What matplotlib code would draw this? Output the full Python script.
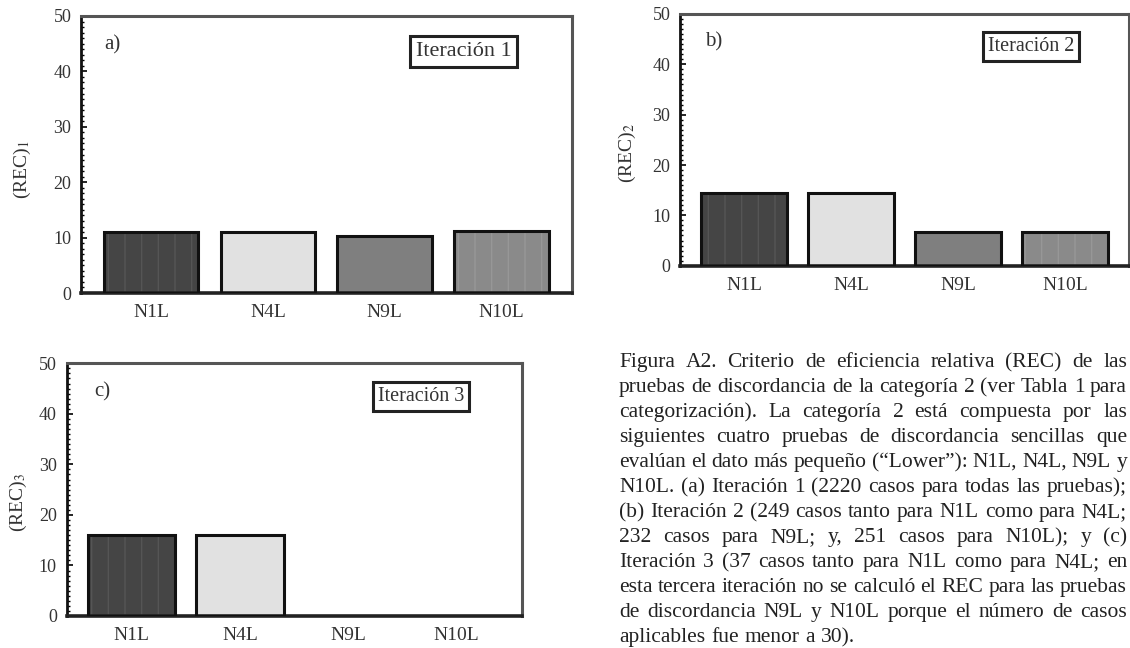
import numpy as np
import matplotlib
matplotlib.use("Agg")
import matplotlib.pyplot as plt
from matplotlib.ticker import MultipleLocator

plt.rcParams['font.family'] = ['Liberation Serif', 'DejaVu Serif']
plt.rcParams['mathtext.fontset'] = 'stix'

categories = ["N1L", "N4L", "N9L", "N10L"]
rec_iter1 = [11.1, 11.0, 10.2, 11.2]
rec_iter2 = [14.5, 14.5, 6.7, 6.7]
rec_iter3 = [16.1, 16.1, np.nan, np.nan]
panel_tags = ["a)", "b)", "c)"]
iter_labels = ["Iteración 1", "Iteración 2", "Iteración 3"]
ylabels = ["(REC)$_1$", "(REC)$_2$", "(REC)$_3$"]

caption_lines = [
    "Figura A2.  Criterio de eficiencia relativa (REC) de las",
    "pruebas de discordancia de la categoría 2 (ver Tabla 1 para",
    "categorización). La categoría 2 está compuesta por las",
    "siguientes cuatro pruebas de discordancia sencillas que",
    "evalúan el dato más pequeño (“Lower”): N1L, N4L, N9L y",
    "N10L. (a) Iteración 1 (2220 casos para todas las pruebas);",
    "(b) Iteración 2 (249 casos tanto para N1L como para N4L;",
    "232 casos para N9L; y, 251 casos para N10L); y (c)",
    "Iteración 3 (37 casos tanto para N1L como para N4L; en",
    "esta tercera iteración no se calculó el REC para las pruebas",
    "de discordancia N9L y N10L porque el número de casos",
    "aplicables fue menor a 30).",
]

face_colors = ['#454545', '#e1e1e1', '#7f7f7f', '#8a8a8a']
stripe_colors = ['#555555', None, None, '#979797']

W, H = 1130, 648
fig = plt.figure(figsize=(W / 100, H / 100), dpi=100)

# axes rectangles in pixel terms: left, right, top, bottom
rects = [(81, 571.6, 16, 293), (680, 1129, 14, 265.7), (66.6, 521.6, 363.3, 616)]
tag_pos = [(0.047, 0.895), (0.055, 0.889), (0.06, 0.886)]
box_pos = [(0.78, 0.872), (0.782, 0.871), (0.779, 0.87)]
box_fs = [16, 14.5, 14.5]
ylab_pos = [(-0.098, 0.444), (-0.094, 0.448), (-0.083, 0.451)]
series = [rec_iter1, rec_iter2, rec_iter3]

for i, (l, r, t, b) in enumerate(rects):
    ax = fig.add_axes([l / W, 1 - b / H, (r - l) / W, (b - t) / H])
    vals = np.array(series[i], dtype=float)
    x = np.arange(len(categories))
    for j in range(len(categories)):
        if np.isnan(vals[j]):
            continue
        if stripe_colors[j] is not None:
            ax.bar(x[j], vals[j], width=0.81, color=face_colors[j],
                   edgecolor=stripe_colors[j], hatch='|', linewidth=0, zorder=2)
        else:
            ax.bar(x[j], vals[j], width=0.81, color=face_colors[j], linewidth=0, zorder=2)
        ax.bar(x[j], vals[j], width=0.81, fill=False, edgecolor='#111111',
               linewidth=2.2, zorder=3)
    ax.set_xlim(-0.6, 3.6)
    ax.set_ylim(0, 50)
    ax.set_xticks(x)
    ax.set_xticklabels(categories, fontsize=14, color='#333333')
    ax.set_yticks([0, 10, 20, 30, 40, 50])
    ax.yaxis.set_minor_locator(MultipleLocator(1))
    ax.tick_params(axis='x', length=0, pad=8)
    ax.tick_params(axis='y', which='major', direction='in', length=4, width=1.2,
                   labelsize=13, labelcolor='#333333', pad=7)
    ax.tick_params(axis='y', which='minor', direction='in', length=2, width=1.0)
    for side in ['top', 'right']:
        ax.spines[side].set_color('#555555')
        ax.spines[side].set_linewidth(2.2)
    ax.spines['left'].set_color('#111111')
    ax.spines['left'].set_linewidth(2.0)
    ax.spines['bottom'].set_color('#222222')
    ax.spines['bottom'].set_linewidth(2.6)
    ax.text(tag_pos[i][0], tag_pos[i][1], panel_tags[i], transform=ax.transAxes,
            fontsize=15, color='#333333', ha='left', va='center')
    ax.text(box_pos[i][0], box_pos[i][1], iter_labels[i], transform=ax.transAxes,
            fontsize=box_fs[i], color='#333333', ha='center', va='center',
            bbox=dict(boxstyle='square,pad=0.25', facecolor='white',
                      edgecolor='#222222', linewidth=2.2))
    ax.set_ylabel(ylabels[i], fontsize=14, color='#333333')
    ax.yaxis.set_label_coords(ylab_pos[i][0], ylab_pos[i][1])

# justified caption
renderer = fig.canvas.get_renderer()
x0, x1 = 619, 1127
base0 = 367
spacing = 25
cap_fs = 15.5
for k, line in enumerate(caption_lines):
    y = base0 + k * spacing
    words = [w for w in line.split(' ') if w != '']
    fs = cap_fs
    while True:
        texts, widths = [], []
        for w in words:
            tx = fig.text(0, 0, w, fontsize=fs, color='#222222', va='baseline', ha='left')
            widths.append(tx.get_window_extent(renderer).width)
            texts.append(tx)
        last = (k == len(caption_lines) - 1)
        if last:
            gap = 0.27 * fs * 100 / 72
            break
        gap = (x1 - x0 - sum(widths)) / (len(words) - 1)
        if gap >= 3.5 or fs < 12:
            break
        for tx in texts:
            tx.remove()
        fs -= 0.25
    cx = x0
    for tx, wd in zip(texts, widths):
        tx.set_position((cx / W, 1 - y / H))
        cx += wd + gap

fig.savefig("out.png", dpi=100)
